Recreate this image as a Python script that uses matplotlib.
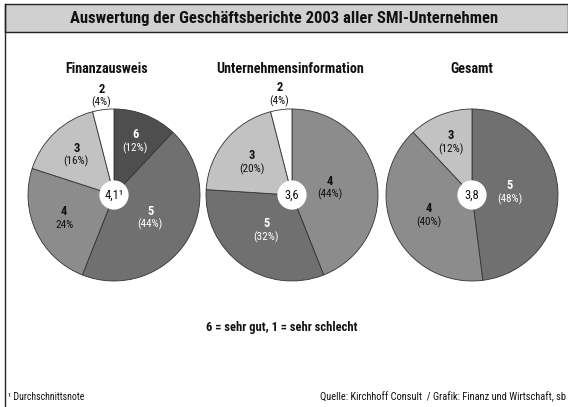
import matplotlib
matplotlib.use("Agg")
import matplotlib.pyplot as plt
from matplotlib.patches import Rectangle, Circle
import numpy as np

# data
titles = ["Finanzausweis", "Unternehmensinformation", "Gesamt"]
grades = [["6", "5", "4", "3", "2"], ["4", "5", "3", "2"], ["5", "4", "3"]]
shares = [[12, 44, 24, 16, 4], [44, 32, 20, 4], [48, 40, 12]]
pct_labels = [["(12%)", "(44%)", "24%", "(16%)", "(4%)"],
              ["(44%)", "(32%)", "(20%)", "(4%)"],
              ["(48%)", "(40%)", "(12%)"]]
averages = ["4,1\u00b9", "3,6", "3,8"]

# style
W, H = 568, 407
plt.rcParams["font.family"] = ["Roboto Condensed", "Archivo Narrow", "DejaVu Sans"]
grade_colors = {"6": "#4e4e4e", "5": "#707070", "4": "#8c8c8c",
                "3": "#c2c2c2", "2": "#ffffff"}
label_colors = {"6": "white", "5": "white", "4": "#111111",
                "3": "#111111", "2": "#111111"}
centers = [(114, 195), (292, 195), (472, 195)]
radius = 86
label_dist = [[0.67, 0.50, 0.64, 0.64, 1.16],
              [0.45, 0.51, 0.60, 1.18],
              [0.44, 0.56, 0.66]]

fig = plt.figure(figsize=(W / 100, H / 100), dpi=100)
fig.patch.set_facecolor("white")

# title bar and frame
fig.add_artist(Rectangle((5 / W, (H - 32) / H), 1 - 5 / W, 28 / H,
                         transform=fig.transFigure, facecolor="#d0d0d0",
                         edgecolor="#222222", linewidth=1.0))
fig.add_artist(plt.Line2D([5 / W, 5 / W], [0, (H - 4) / H],
                          transform=fig.transFigure, color="#222222", lw=1.0))
fig.text(284 / W, (H - 18) / H,
         "Auswertung der Geschäftsberichte 2003 aller SMI-Unternehmen",
         ha="center", va="center", fontsize=12, fontweight="bold", color="#111111")

title_x = [107, 290, 472]
for i in range(3):
    cx, cy = centers[i]
    ax = fig.add_axes([(cx - radius) / W, (H - cy - radius) / H,
                       2 * radius / W, 2 * radius / H])
    cols = [grade_colors[g] for g in grades[i]]
    wedges, _ = ax.pie(shares[i], colors=cols, startangle=90, counterclock=False,
                       wedgeprops=dict(edgecolor="#333333", linewidth=0.6))
    ax.set_xlim(-1, 1)
    ax.set_ylim(-1, 1)
    ax.add_patch(Circle((0, 0), 0.17, facecolor="white", edgecolor="none", zorder=5))
    ax.text(0, 0, averages[i], ha="center", va="center", fontsize=9,
            color="#111111", zorder=6)
    for w, g, p, d in zip(wedges, grades[i], pct_labels[i], label_dist[i]):
        ang = np.deg2rad((w.theta1 + w.theta2) / 2)
        x, y = d * np.cos(ang), d * np.sin(ang)
        c = label_colors[g]
        ax.annotate(g, (x, y), xytext=(0, 4.8), textcoords="offset points",
                    ha="center", va="center", fontsize=9, fontweight="bold",
                    color=c, annotation_clip=False)
        ax.annotate(p, (x, y), xytext=(0, -4.8), textcoords="offset points",
                    ha="center", va="center", fontsize=8, color=c,
                    annotation_clip=False)
    fig.text(title_x[i] / W, (H - 69) / H, titles[i], ha="center", va="center",
             fontsize=10.2, fontweight="bold", color="#111111")

fig.text(282 / W, (H - 328) / H, "6 = sehr gut, 1 = sehr schlecht",
         ha="center", va="center", fontsize=9, fontweight="bold", color="#111111")
fig.text(8 / W, (H - 397) / H, "\u00b9 Durchschnittsnote", ha="left", va="center",
         fontsize=7, color="#111111")
fig.text(566 / W, (H - 397) / H,
         "Quelle: Kirchhoff Consult  / Grafik: Finanz und Wirtschaft, sb",
         ha="right", va="center", fontsize=7.5, color="#111111")

fig.savefig("out.png", dpi=100)
